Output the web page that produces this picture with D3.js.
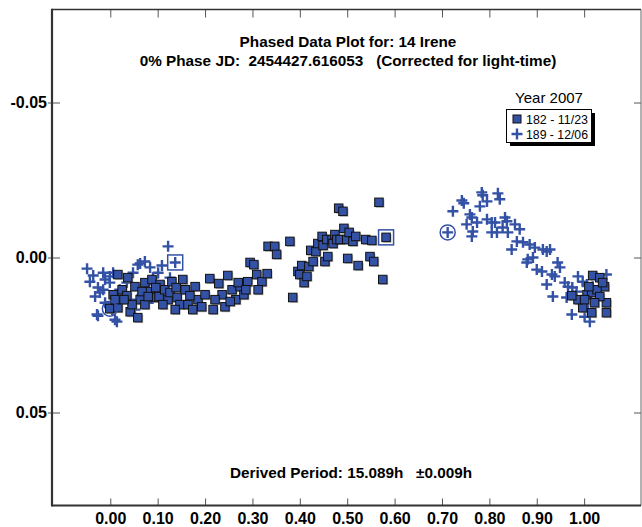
<!DOCTYPE html>
<html>
<head>
<meta charset="utf-8">
<script src="https://cdn.jsdelivr.net/npm/d3@7"></script>
<style>
  body { margin: 0; background: #fff; }
  text { font-family: "Liberation Sans", Arial, sans-serif; }
</style>
</head>
<body>
<div id="chart-area"></div>
<script>
// session 182 (11/23) - squares, [phase, mag]
const squares = [
  [-0.001, 0.0165], [0.016, 0.0162], [0.016, 0.0055], [0.037, 0.0065], [0.025, 0.0104],
  [0.035, 0.0123], [0.042, 0.0175], [0.058, 0.0194], [0.052, 0.0094], [0.063, 0.0136],
  [0.073, 0.0152], [0.073, 0.0081], [0.084, 0.0110], [0.088, 0.0071], [0.094, 0.0129],
  [0.103, 0.0126], [0.105, 0.0087], [0.115, 0.0104], [0.122, 0.0136], [0.126, 0.0113],
  [0.130, 0.0078], [0.141, 0.0129], [0.139, 0.0097], [0.153, 0.0071], [0.147, 0.0152],
  [0.164, 0.0152], [0.174, 0.0168], [0.185, 0.0136], [0.193, 0.0159], [0.200, 0.0120],
  [0.210, 0.0068], [0.217, 0.0168], [0.229, 0.0084], [0.242, 0.0159], [0.248, 0.0058],
  [0.236, 0.0120], [0.257, 0.0104], [0.265, 0.0136], [0.274, 0.0094], [0.282, 0.0120],
  [0.290, 0.0078], [0.295, 0.0016], [0.303, 0.0023], [0.309, 0.0055], [0.320, 0.0078],
  [0.331, 0.0052], [0.333, -0.0036], [0.347, -0.0036], [0.351, -0.0010], [0.379, -0.0052],
  [0.385, 0.0129], [0.396, 0.0045], [0.400, 0.0055], [0.404, 0.0026], [0.409, 0.0081],
  [0.415, 0.0061], [0.419, 0.0029], [0.423, -0.0023], [0.428, 0.0013], [0.434, -0.0019],
  [0.438, -0.0045], [0.447, -0.0068], [0.449, -0.0039], [0.453, 0.0013], [0.457, -0.0058],
  [0.459, -0.0003], [0.468, -0.0058], [0.470, -0.0045], [0.474, -0.0074], [0.478, -0.0058],
  [0.482, -0.0159], [0.491, -0.0149], [0.485, -0.0058], [0.493, -0.0094], [0.499, -0.0058],
  [0.501, 0.0003], [0.504, -0.0081], [0.512, -0.0052], [0.518, -0.0068], [0.523, 0.0026],
  [0.539, -0.0058], [0.548, -0.0003], [0.552, -0.0055], [0.556, 0.0013], [0.567, -0.0178],
  [0.575, 0.0071], [0.582, -0.0065], [0.270, 0.0081], [0.286, 0.0104], [0.312, 0.0104],
  [0.158, 0.0104], [0.168, 0.0123], [0.179, 0.0094], [0.221, 0.0136], [0.253, 0.0142],
  [0.111, 0.0152], [0.137, 0.0168], [0.046, 0.0152], [0.029, 0.0136], [0.067, 0.0110],
  [0.080, 0.0126], [0.096, 0.0097], [0.006, 0.0120], [0.010, 0.0136],
  [1.018, 0.0058], [1.033, 0.0065], [1.043, 0.0094], [1.006, 0.0120], [1.016, 0.0113],
  [1.027, 0.0104], [1.047, 0.0146], [0.997, 0.0162], [1.016, 0.0178], [1.047, 0.0178],
  [1.033, 0.0126], [1.022, 0.0146], [1.010, 0.0094], [1.039, 0.0081], [0.987, 0.0136],
  [1.001, 0.0136], [0.974, 0.0123]
];

// session 189 (12/06) - crosses, [phase, mag]
const crosses = [
  [-0.049, 0.0036], [-0.015, 0.0049], [-0.001, 0.0061], [-0.043, 0.0078], [-0.036, 0.0058],
  [-0.026, 0.0097], [-0.032, 0.0126], [-0.022, 0.0113], [-0.011, 0.0146], [-0.026, 0.0188],
  [0.014, 0.0207], [0.004, 0.0168], [0.006, 0.0049], [0.048, 0.0049], [0.058, 0.0023],
  [0.073, 0.0013], [0.084, 0.0032], [0.035, 0.0081], [0.101, 0.0049], [0.109, 0.0026],
  [0.122, -0.0036], [0.137, 0.0016], [-0.001, 0.0081], [-0.015, 0.0104], [0.080, 0.0087],
  [0.105, 0.0097], [0.067, 0.0120], [0.080, 0.0146], [0.027, 0.0120], [0.020, 0.0104],
  [-0.011, 0.0071], [0.042, 0.0136], [0.052, 0.0168], [0.090, 0.0065], [0.126, 0.0065],
  [-0.028, 0.0184], [0.010, 0.0201], [0.063, 0.0019],
  [0.712, -0.0081], [0.723, -0.0149], [0.742, -0.0184], [0.746, -0.0175], [0.784, -0.0210],
  [0.786, -0.0201], [0.795, -0.0181], [0.818, -0.0207], [0.822, -0.0188], [0.780, -0.0165],
  [0.759, -0.0139], [0.763, -0.0129], [0.752, -0.0107], [0.774, -0.0113], [0.765, -0.0084],
  [0.763, -0.0068], [0.795, -0.0123], [0.805, -0.0113], [0.812, -0.0113], [0.805, -0.0081],
  [0.816, -0.0081], [0.833, -0.0129], [0.837, -0.0117], [0.828, -0.0097], [0.839, -0.0081],
  [0.854, -0.0107], [0.864, -0.0091], [0.858, -0.0052], [0.871, -0.0049], [0.885, -0.0042],
  [0.847, -0.0026], [0.896, -0.0032], [0.913, -0.0026], [0.921, -0.0019], [0.928, -0.0026],
  [0.881, 0.0006], [0.892, 0.0000], [0.879, 0.0016], [0.944, 0.0016], [0.949, 0.0032],
  [0.900, 0.0039], [0.911, 0.0045], [0.932, 0.0055], [0.938, 0.0061], [0.921, 0.0087],
  [0.959, 0.0081], [0.966, 0.0094], [0.975, 0.0097], [0.987, 0.0061], [0.997, 0.0078],
  [1.006, 0.0087], [1.047, 0.0055], [0.934, 0.0126], [0.963, 0.0129], [0.984, 0.0110],
  [0.995, 0.0146], [1.018, 0.0094], [1.029, 0.0136], [0.974, 0.0184], [1.001, 0.0191],
  [1.012, 0.0207], [1.008, 0.0168]
];

// first / last point of each session
const sessionStart = [[-0.001, 0.0165], [0.712, -0.0081]];
const sessionEnd = [[0.137, 0.0016], [0.582, -0.0065]];

const xTicks = [0, 0.1, 0.2, 0.3, 0.4, 0.5, 0.6, 0.7, 0.8, 0.9, 1.0];
const yTicks = [-0.05, 0, 0.05];
const legendLabels = ['182 - 11/23', '189 - 12/06'];

const chartSize = { width: 642, height: 527 };
const frame = { left: 52, right: 641, top: 9.5, bottom: 505.5 };
const blue = '#3352a6';
const fmt = d => d.toFixed(2);

const svg = d3.select('#chart-area').append('svg')
  .attr('width', chartSize.width)
  .attr('height', chartSize.height);

const x = d3.scaleLinear().domain([-0.123, 1.12]).range([frame.left, frame.right]);
const y = d3.scaleLinear().domain([-0.08, 0.08]).range([frame.top, frame.bottom]);

// axes
svg.append('g')
  .attr('transform', `translate(0,${frame.bottom})`)
  .call(d3.axisBottom(x).tickValues(xTicks).tickSize(-7).tickPadding(7).tickFormat(fmt));
svg.append('g')
  .attr('transform', `translate(0,${frame.top})`)
  .call(d3.axisTop(x).tickValues(xTicks).tickSize(-8).tickFormat(''));
const leftAxis = svg.append('g')
  .attr('transform', `translate(${frame.left},0)`)
  .call(d3.axisLeft(y).tickValues(yTicks).tickSize(-8).tickPadding(5).tickFormat(fmt));
svg.append('g')
  .attr('transform', `translate(${frame.right},0)`)
  .call(d3.axisRight(y).tickValues(yTicks).tickSize(-7).tickFormat(''));

svg.selectAll('.domain').remove();
svg.selectAll('.tick line').attr('stroke', '#555').attr('stroke-width', 1);
leftAxis.selectAll('.tick line').attr('x1', -4);
svg.selectAll('.tick text')
  .attr('fill', '#000')
  .style('font-size', '16px')
  .style('font-weight', 'bold')
  .style('font-family', '"Liberation Sans", Arial, sans-serif');

// frame
svg.append('line').attr('x1', frame.left).attr('x2', frame.right).attr('y1', frame.top).attr('y2', frame.top)
  .attr('stroke', '#333').attr('stroke-width', 1.5);
svg.append('line').attr('x1', frame.right).attr('x2', frame.right).attr('y1', frame.top).attr('y2', frame.bottom)
  .attr('stroke', '#666').attr('stroke-width', 1);
svg.append('line').attr('x1', frame.left).attr('x2', frame.left).attr('y1', frame.top - 0.75).attr('y2', frame.bottom + 1)
  .attr('stroke', '#333').attr('stroke-width', 2.2);
svg.append('line').attr('x1', frame.left).attr('x2', frame.right).attr('y1', frame.bottom).attr('y2', frame.bottom)
  .attr('stroke', '#333').attr('stroke-width', 2.2);

// titles
const cx = 348;
svg.append('text').attr('x', cx).attr('y', 47).attr('text-anchor', 'middle')
  .style('font-size', '15.3px').style('font-weight', 'bold')
  .text('Phased Data Plot for: 14 Irene');
svg.append('text').attr('x', cx).attr('y', 66).attr('text-anchor', 'middle')
  .style('font-size', '15.3px').style('font-weight', 'bold').style('white-space', 'pre')
  .text('0% Phase JD:  2454427.616053   (Corrected for light-time)');
svg.append('text').attr('x', 351).attr('y', 478).attr('text-anchor', 'middle')
  .style('font-size', '15.3px').style('font-weight', 'bold').style('white-space', 'pre')
  .text('Derived Period: 15.089h   \u00b10.009h');

// marks
const crossPath = 'M-5.5,0H5.5M0,-5.5V5.5';
const plot = svg.append('g');

plot.selectAll('.cross').data(crosses).join('path')
  .attr('class', 'cross')
  .attr('d', crossPath)
  .attr('transform', d => `translate(${x(d[0])},${y(d[1])})`)
  .attr('stroke', blue).attr('stroke-width', 2.4).attr('fill', 'none');

const sq = 8.5;
plot.selectAll('.sqshadow').data(squares).join('rect')
  .attr('class', 'sqshadow')
  .attr('x', d => x(d[0]) - sq / 2 + 1.2).attr('y', d => y(d[1]) - sq / 2 + 1.2)
  .attr('width', sq).attr('height', sq)
  .attr('fill', '#888').attr('opacity', 0.6);
plot.selectAll('.square').data(squares).join('rect')
  .attr('class', 'square')
  .attr('x', d => x(d[0]) - sq / 2).attr('y', d => y(d[1]) - sq / 2)
  .attr('width', sq).attr('height', sq)
  .attr('fill', blue).attr('stroke', '#111').attr('stroke-width', 1);

plot.selectAll('.start').data(sessionStart).join('circle')
  .attr('class', 'start')
  .attr('cx', d => x(d[0])).attr('cy', d => y(d[1])).attr('r', 7.5)
  .attr('fill', 'none').attr('stroke', blue).attr('stroke-width', 1.5);
plot.selectAll('.end').data(sessionEnd).join('rect')
  .attr('class', 'end')
  .attr('x', d => x(d[0]) - 7.5).attr('y', d => y(d[1]) - 7.5)
  .attr('width', 15).attr('height', 15)
  .attr('fill', 'none').attr('stroke', blue).attr('stroke-width', 1.5);

// legend
const lg = svg.append('g');
lg.append('text').attr('x', 549).attr('y', 103).attr('text-anchor', 'middle')
  .style('font-size', '15px').text('Year 2007');
lg.append('rect').attr('x', 510).attr('y', 113).attr('width', 85).attr('height', 33).attr('fill', '#000');
lg.append('rect').attr('x', 506.5).attr('y', 109.5).attr('width', 85).attr('height', 33)
  .attr('fill', '#fff').attr('stroke', '#000').attr('stroke-width', 1);
legendLabels.forEach((lab, i) => {
  const ry = 119 + i * 15;
  if (i === 0) {
    lg.append('rect').attr('x', 513).attr('y', ry - 4).attr('width', 8).attr('height', 8)
      .attr('fill', blue).attr('stroke', '#111').attr('stroke-width', 1);
  } else {
    lg.append('path').attr('d', crossPath).attr('transform', `translate(517,${ry})`)
      .attr('stroke', blue).attr('stroke-width', 2.4);
  }
  lg.append('text').attr('x', 526).attr('y', ry + 4.5)
    .attr('textLength', 62).attr('lengthAdjust', 'spacingAndGlyphs')
    .style('font-size', '13.5px').text(lab);
});
</script>
</body>
</html>
